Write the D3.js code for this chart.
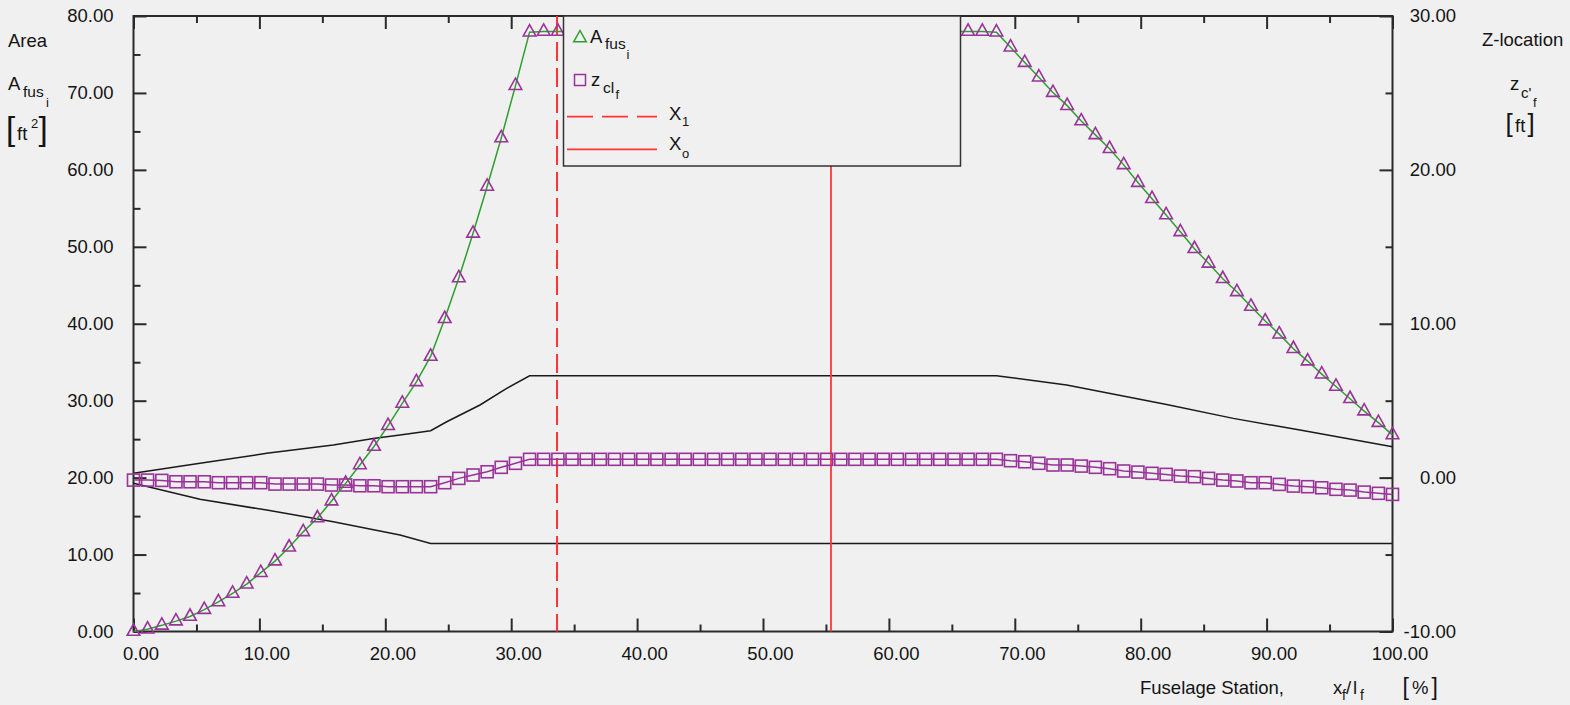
<!DOCTYPE html>
<html>
<head>
<meta charset="utf-8">
<script src="https://cdn.jsdelivr.net/npm/d3@7/dist/d3.min.js"></script>
<style>
  html, body { margin: 0; padding: 0; background: #f0f0f0; }
  text { font-family: "Liberation Sans", Arial, sans-serif; fill: #141414; }
</style>
</head>
<body>
<script>
// ---------- DATA ----------
const stations = [0.00, 1.12, 2.25, 3.37, 4.49, 5.62, 6.74, 7.87, 8.99, 10.11,
  11.24, 12.36, 13.48, 14.61, 15.73, 16.85, 17.98, 19.10, 20.22, 21.35,
  22.47, 23.60, 24.72, 25.84, 26.97, 28.09, 29.21, 30.34, 31.46, 32.58,
  33.71, 34.83, 35.96, 37.08, 38.20, 39.33, 40.45, 41.57, 42.70, 43.82,
  44.94, 46.07, 47.19, 48.31, 49.44, 50.56, 51.69, 52.81, 53.93, 55.06,
  56.18, 57.30, 58.43, 59.55, 60.67, 61.80, 62.92, 64.04, 65.17, 66.29,
  67.42, 68.54, 69.66, 70.79, 71.91, 73.03, 74.16, 75.28, 76.40, 77.53,
  78.65, 79.78, 80.90, 82.02, 83.15, 84.27, 85.39, 86.52, 87.64, 88.76,
  89.89, 91.01, 92.13, 93.26, 94.38, 95.51, 96.63, 97.75, 98.88, 100.00];

// A_fus_i  [ft^2]  (left axis)
const areaFus = [0.0, 0.3, 0.8, 1.35, 1.95, 2.85, 3.85, 4.95, 6.15, 7.65,
  9.15, 10.95, 12.95, 14.75, 16.95, 19.25, 21.65, 24.05, 26.75, 29.65,
  32.45, 35.75, 40.65, 45.95, 51.75, 57.85, 64.15, 70.95, 77.9, 78.0,
  78.0, 78.0, 78.0, 78.0, 78.0, 78.0, 78.0, 78.0, 78.0, 78.0,
  78.0, 78.0, 78.0, 78.0, 78.0, 78.0, 78.0, 78.0, 78.0, 78.0,
  78.0, 78.0, 78.0, 78.0, 78.0, 78.0, 78.0, 78.0, 78.0, 78.0,
  78.0, 77.9, 75.95, 73.95, 72.05, 70.05, 68.35, 66.35, 64.55, 62.75,
  60.65, 58.35, 56.25, 54.15, 51.95, 49.75, 47.85, 45.85, 44.15, 42.25,
  40.35, 38.65, 36.75, 35.15, 33.45, 31.85, 30.25, 28.65, 27.15, 25.55];

// z_cl_f  [ft]  (right axis)
const zCl = [-0.16, -0.16, -0.18, -0.27, -0.27, -0.27, -0.33, -0.33, -0.33, -0.33,
  -0.42, -0.42, -0.42, -0.42, -0.48, -0.48, -0.53, -0.53, -0.59, -0.59,
  -0.59, -0.59, -0.33, -0.05, 0.17, 0.38, 0.67, 0.93, 1.19, 1.19,
  1.19, 1.19, 1.19, 1.19, 1.19, 1.19, 1.19, 1.19, 1.19, 1.19,
  1.19, 1.19, 1.19, 1.19, 1.19, 1.19, 1.19, 1.19, 1.19, 1.19,
  1.19, 1.19, 1.19, 1.19, 1.19, 1.19, 1.19, 1.19, 1.19, 1.19,
  1.19, 1.19, 1.10, 1.03, 0.93, 0.82, 0.82, 0.75, 0.67, 0.58,
  0.43, 0.36, 0.28, 0.21, 0.10, 0.06, -0.05, -0.16, -0.22, -0.33,
  -0.33, -0.44, -0.55, -0.59, -0.66, -0.76, -0.81, -0.94, -1.02, -1.09];

// fuselage upper / lower contour (right axis)
const upperX = [0, 5.28, 10.58, 15.87, 19.05, 21.17, 23.60, 24.88, 27.52, 29.64, 31.46, 68.54, 74.12, 82.06, 87.35, 92.65, 100];
const upperZ = [0.28, 0.93, 1.58, 2.12, 2.55, 2.77, 3.05, 3.63, 4.72, 5.80, 6.62, 6.62, 6.02, 4.75, 3.85, 3.09, 2.0];
const lowerX = [0, 5.28, 10.58, 15.87, 21.17, 23.60, 100];
const lowerZ = [-0.37, -1.41, -2.11, -2.87, -3.73, -4.28, -4.28];

const X1 = 33.64;
const Xo = 55.40;

const xTicks = [0, 10, 20, 30, 40, 50, 60, 70, 80, 90, 100];
const xMinor = [5, 15, 25, 35, 45, 55, 65, 75, 85, 95];
const leftTicks = [0, 10, 20, 30, 40, 50, 60, 70, 80];
const leftMinor = [5, 15, 25, 35, 45, 55, 65, 75];
const rightTicks = [-10, 0, 10, 20, 30];
const rightMinor = [-5, 5, 15, 25];

// ---------- LAYOUT ----------
const W = 1570, H = 705;
const L = 133.5, R = 1392.5, T = 16, B = 631.5;
const x = d3.scaleLinear().domain([0, 100]).range([L, R]);
const yL = d3.scaleLinear().domain([0, 80]).range([B, T]);
const yR = d3.scaleLinear().domain([-10, 30]).range([B, T]);
const fmt = d => d.toFixed(2);
const AX = "#2a2a2a";
const FS = 18.5;

const svg = d3.select("body").append("svg").attr("width", W).attr("height", H)
  .style("background", "#f0f0f0");

function styleAxis(g) {
  g.select(".domain").remove();
  g.selectAll(".tick line").attr("stroke", AX).attr("stroke-width", 2);
  g.selectAll(".tick text").style("font-size", FS + "px").attr("fill", "#141414")
    .style("font-family", '"Liberation Sans", Arial, sans-serif');
}

// left axis
svg.append("g").attr("transform", `translate(${L},0)`)
  .call(d3.axisLeft(yL).tickValues(leftTicks).tickSize(-13).tickSizeOuter(0).tickPadding(20).tickFormat(fmt))
  .call(styleAxis);
svg.append("g").attr("transform", `translate(${L},0)`)
  .call(d3.axisLeft(yL).tickValues(leftMinor).tickSize(-7).tickSizeOuter(0).tickFormat(""))
  .call(styleAxis);
// right axis
svg.append("g").attr("transform", `translate(${R},0)`)
  .call(d3.axisRight(yR).tickValues(rightTicks).tickSize(-13).tickSizeOuter(0).tickFormat(fmt))
  .call(styleAxis)
  .call(g => g.selectAll(".tick text").attr("x", 63.5).attr("text-anchor", "end"));
svg.append("g").attr("transform", `translate(${R},0)`)
  .call(d3.axisRight(yR).tickValues(rightMinor).tickSize(-7).tickSizeOuter(0).tickFormat(""))
  .call(styleAxis);
// bottom axis
svg.append("g").attr("transform", `translate(0,${B})`)
  .call(d3.axisBottom(x).tickValues(xTicks).tickSize(-13).tickSizeOuter(0).tickPadding(15).tickFormat(fmt))
  .call(styleAxis)
  .call(g => g.selectAll(".tick text").attr("x", 7));
svg.append("g").attr("transform", `translate(0,${B})`)
  .call(d3.axisBottom(x).tickValues(xMinor).tickSize(-7).tickSizeOuter(0).tickFormat(""))
  .call(styleAxis);
// top axis
svg.append("g").attr("transform", `translate(0,${T})`)
  .call(d3.axisTop(x).tickValues(xTicks).tickSize(-13).tickSizeOuter(0).tickFormat(""))
  .call(styleAxis);
svg.append("g").attr("transform", `translate(0,${T})`)
  .call(d3.axisTop(x).tickValues(xMinor).tickSize(-7).tickSizeOuter(0).tickFormat(""))
  .call(styleAxis);

// frame
svg.append("rect").attr("x", L).attr("y", T).attr("width", R - L).attr("height", B - T)
  .attr("fill", "none").attr("stroke", AX).attr("stroke-width", 2);

// ---------- DATA MARKS ----------
const lineR = d3.line().x(d => x(d[0])).y(d => yR(d[1]));
const lineL = d3.line().x(d => x(d[0])).y(d => yL(d[1]));

svg.append("path").datum(upperX.map((v, i) => [v, upperZ[i]])).attr("d", lineR)
  .attr("fill", "none").attr("stroke", "#1a1a1a").attr("stroke-width", 1.5);
svg.append("path").datum(lowerX.map((v, i) => [v, lowerZ[i]])).attr("d", lineR)
  .attr("fill", "none").attr("stroke", "#1a1a1a").attr("stroke-width", 1.5);

// reference lines
svg.append("line").attr("x1", x(X1)).attr("x2", x(X1)).attr("y1", yL(80)).attr("y2", yL(0))
  .attr("stroke", "#ff3535").attr("stroke-width", 2).attr("stroke-dasharray", "19,7");
svg.append("line").attr("x1", x(Xo)).attr("x2", x(Xo)).attr("y1", yL(80)).attr("y2", yL(0))
  .attr("stroke", "#ff3535").attr("stroke-width", 1.8);

// z_cl line + squares
const zData = stations.map((s, i) => [s, zCl[i]]);
svg.append("path").datum(zData).attr("d", lineR)
  .attr("fill", "none").attr("stroke", "#993399").attr("stroke-width", 1.5);
svg.append("g").selectAll("rect").data(zData).join("rect")
  .attr("x", d => x(d[0]) - 6).attr("y", d => yR(d[1]) - 6)
  .attr("width", 12).attr("height", 12)
  .attr("fill", "none").attr("stroke", "#993399").attr("stroke-width", 1.6);

// A_fus line + triangles
const aData = stations.map((s, i) => [s, areaFus[i]]);
svg.append("path").datum(aData).attr("d", lineL)
  .attr("fill", "none").attr("stroke", "#2e9e2e").attr("stroke-width", 1.5);
const tri = "M0,-7.5L6.3,3.8L-6.3,3.8Z";
svg.append("g").selectAll("path").data(aData).join("path")
  .attr("d", tri).attr("transform", d => `translate(${x(d[0])},${yL(d[1])})`)
  .attr("fill", "none").attr("stroke", "#993399").attr("stroke-width", 1.6);

// ---------- LEGEND ----------
const lg = svg.append("g");
lg.append("rect").attr("x", 563.5).attr("y", T).attr("width", 397).attr("height", 150)
  .attr("fill", "#f0f0f0").attr("stroke", "#333").attr("stroke-width", 1.5);
lg.append("path").attr("d", tri).attr("transform", "translate(580,38)")
  .attr("fill", "none").attr("stroke", "#2e9e2e").attr("stroke-width", 1.5);
lg.append("rect").attr("x", 574.5).attr("y", 74.5).attr("width", 11).attr("height", 11)
  .attr("fill", "none").attr("stroke", "#993399").attr("stroke-width", 1.5);
lg.append("line").attr("x1", 567).attr("x2", 657).attr("y1", 116.7).attr("y2", 116.7)
  .attr("stroke", "#ff3535").attr("stroke-width", 1.8).attr("stroke-dasharray", "26,9");
lg.append("line").attr("x1", 567).attr("x2", 657).attr("y1", 149.3).attr("y2", 149.3)
  .attr("stroke", "#ff3535").attr("stroke-width", 1.8);

function txt(s, xx, yy, size, anchor) {
  return svg.append("text").attr("x", xx).attr("y", yy).style("font-size", size + "px")
    .attr("text-anchor", anchor || "start").text(s);
}
// legend labels
txt("A", 590, 43, FS); txt("fus", 605, 49, 15.5); txt("i", 626.5, 59, 13);
txt("z", 591, 86, FS); txt("cl", 603, 93, 15.5); txt("f", 615.5, 99, 13);
txt("X", 669, 120, FS); txt("1", 682, 125.5, 13);
txt("X", 669, 150, FS); txt("o", 682, 158, 13);

// ---------- AXIS TITLES ----------
txt("Area", 8, 47, FS);
txt("A", 8, 90, FS); txt("fus", 23, 97, 15.5); txt("i", 46, 107, 13);
txt("[", 6, 140, 33); txt("ft", 17, 140, FS); txt("2", 31, 128, 13); txt("]", 38.5, 140, 33);

txt("Z-location", 1482, 46, FS);
txt("z", 1510, 90, FS); txt("c'", 1521, 98, 15); txt("f", 1533, 107, 13);
txt("[", 1505.5, 132, 26); txt("ft", 1515, 132, FS); txt("]", 1527.5, 132, 26);

txt("Fuselage Station,", 1140, 694, FS);
txt("x", 1333, 694, FS); txt("f", 1342, 700, 14); txt("/", 1346, 694, FS);
txt("l", 1353, 694, FS); txt("f", 1360, 700, 14);
txt("[", 1402.5, 695, 23); txt("%", 1412, 694, FS); txt("]", 1431.5, 695, 23);
</script>
</body>
</html>
